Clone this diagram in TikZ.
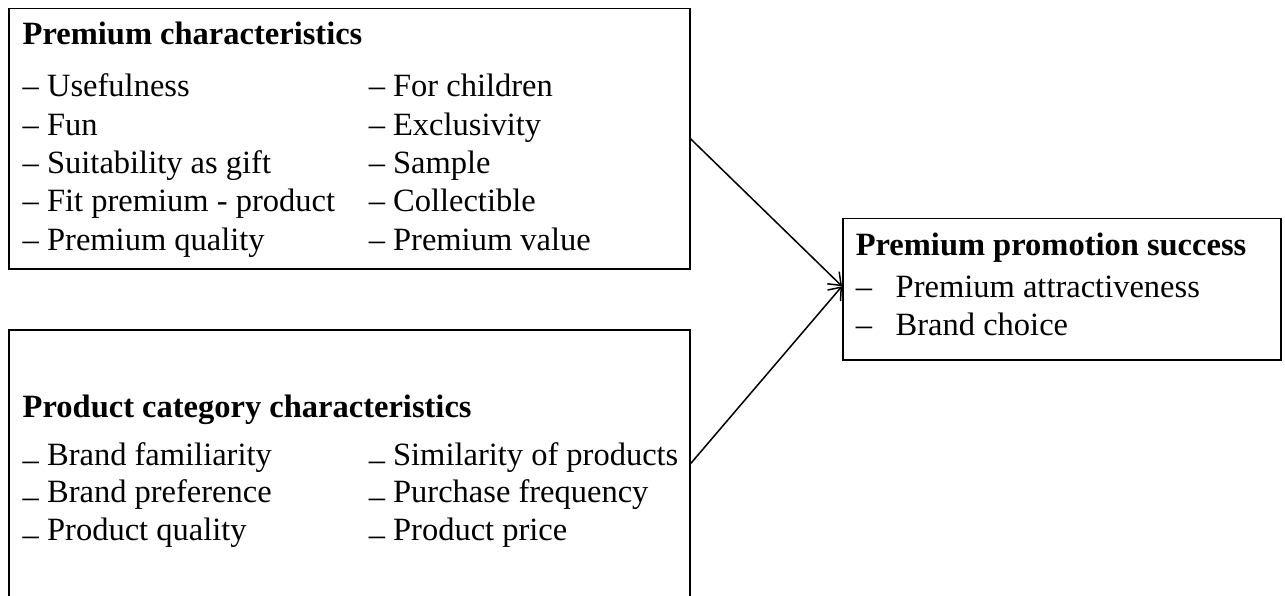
\documentclass[tikz,border=0pt]{standalone}
\usepackage{fontspec}
\setmainfont{Liberation Serif}
\usetikzlibrary{arrows.meta,positioning}

\begin{document}
\begin{tikzpicture}[x=1pt,y=-1pt,line width=1.5pt,
  box/.style={draw,rectangle,inner sep=0pt,anchor=north west},
  item/.style={anchor=base west,inner sep=0pt,font=\fontsize{32.5}{34}\selectfont},
  head/.style={item,font=\fontsize{32.5}{34}\selectfont\bfseries}]
\useasboundingbox (0,0) rectangle (1285,596);

% boxes
\node[box,minimum width=681pt,minimum height=260pt] (prem) at (8,8) {};
\node[box,minimum width=681pt,minimum height=268pt] (cat) at (8,329) {};
\node[box,minimum width=438pt,minimum height=141pt] (succ) at (842,218) {};

% premium characteristics
\node[head] (premhead) at (22,45) {Premium characteristics};
\foreach \lab [count=\i] in {Usefulness,Fun,Suitability as gift,Fit premium - product,Premium quality}
  \node[item] (pa\i) at (22,{97+38.3*(\i-1)}) {-- \lab};
\foreach \lab [count=\i] in {For children,Exclusivity,Sample,Collectible,Premium value}
  \node[item] (pb\i) at (368,{97+38.3*(\i-1)}) {-- \lab};

% product category characteristics
\node[head] (cathead) at (22,417) {Product category characteristics};
\foreach \lab [count=\i] in {Brand familiarity,Brand preference,Product quality}
  \node[item] (ca\i) at (22,{465+37.5*(\i-1)}) {\raisebox{-0.16em}{--} \lab};
\foreach \lab [count=\i] in {Similarity of products,Purchase frequency,Product price}
  \node[item] (cb\i) at (368,{465+37.5*(\i-1)}) {\raisebox{-0.16em}{--} \lab};

% outcome
\node[head] (succhead) at (855,255) {Premium promotion success};
\node[item] (s1) at (855,297) {\makebox[40pt][l]{--}Premium attractiveness};
\node[item] (s2) at (855,335) {\makebox[40pt][l]{--}Brand choice};

% arrows
\draw[-{Straight Barb[length=11pt,width=17pt]}] (prem.east) -- ([yshift=3pt]succ.west);
\draw[-{Straight Barb[length=11pt,width=17pt]}] (cat.east) -- ([yshift=3pt]succ.west);
\end{tikzpicture}
\end{document}
